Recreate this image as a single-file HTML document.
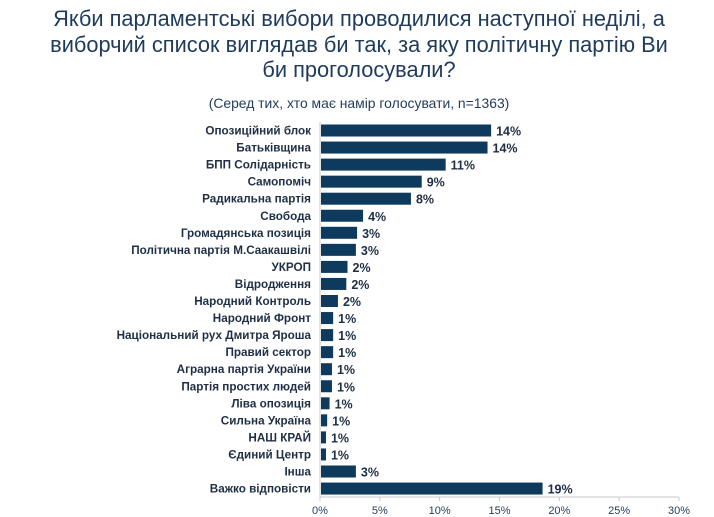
<!DOCTYPE html>
<html><head><meta charset="utf-8"><style>
body{margin:0;background:#fff;width:714px;height:517px;overflow:hidden;font-family:"Liberation Sans","DejaVu Sans",sans-serif}
.t{position:absolute;left:0;width:714px;text-align:center;color:#1f3b5c}
</style></head><body>
<div class="t" style="top:6px;font-size:21.8px;line-height:25.5px;left:2px">Якби парламентські вибори проводилися наступної неділі, а<br>виборчий список виглядав би так, за яку політичну партію Ви<br>би проголосували?</div>
<div class="t" style="top:95px;font-size:13.9px;left:2px">(Серед тих, хто має намір голосувати, n=1363)</div>
<svg id="c" width="714" height="517" style="position:absolute;left:0;top:0"></svg>
<script>
const categories=["Опозиційний блок","Батьківщина","БПП Солідарність","Самопоміч","Радикальна партія","Свобода","Громадянська позиція","Політична партія М.Саакашвілі","УКРОП","Відродження","Народний Контроль","Народний Фронт","Національний рух Дмитра Яроша","Правий сектор","Аграрна партія України","Партія простих людей","Ліва опозиція","Сильна Україна","НАШ КРАЙ","Єдиний Центр","Інша","Важко відповісти"];
const values=[14.3,14.0,10.5,8.5,7.6,3.6,3.1,3.0,2.3,2.2,1.5,1.1,1.1,1.1,1.0,1.0,0.8,0.6,0.5,0.5,3.0,18.6];
const labels=["14%","14%","11%","9%","8%","4%","3%","3%","2%","2%","2%","1%","1%","1%","1%","1%","1%","1%","1%","1%","3%","19%"];
const ticks=[0,5,10,15,20,25,30];
const svg=document.getElementById('c');const NS='http://www.w3.org/2000/svg';
const x0=320,x1=679,xmax=30,y0=130.5,step=17.05,bh=12;
const X=v=>x0+(x1-x0)*v/xmax;const Y=i=>y0+i*step;
function mk(t,a,txt){const e=document.createElementNS(NS,t);for(const k in a)e.setAttribute(k,a[k]);if(txt!=null)e.textContent=txt;svg.appendChild(e);return e;}
const ax=mk('line',{x1:x0,y1:122,x2:x0,y2:497,stroke:'#c8c8c8'});


const bx=mk('line',{x1:x0,y1:497,x2:x1,y2:497,stroke:'#c8c8c8'});


ticks.forEach(t=>{
 const tl=mk('line',{x1:X(t),y1:497,x2:X(t),y2:501,stroke:'#c8c8c8'});
 
 
 const tx=mk('text',{x:X(t),y:514,'text-anchor':'middle','font-size':'11',fill:'#1f3b5c'},t+'%');
 
 
});
categories.forEach((c,i)=>{
 const cy=Y(i);
 const l=mk('text',{x:311,y:cy+4,'text-anchor':'end','font-size':'11.7','font-weight':'bold',fill:'#1f2f45'},c);
 
 
 const b=mk('rect',{x:x0+1,y:cy-bh/2,width:X(values[i])-x0-1,height:bh,fill:'#0e3a5e'});
 
 
 const v=mk('text',{x:X(values[i])+5,y:cy+5,'font-size':'12.5','font-weight':'bold',fill:'#1f2f45'},labels[i]);
 
 
});
</script>
</body></html>
